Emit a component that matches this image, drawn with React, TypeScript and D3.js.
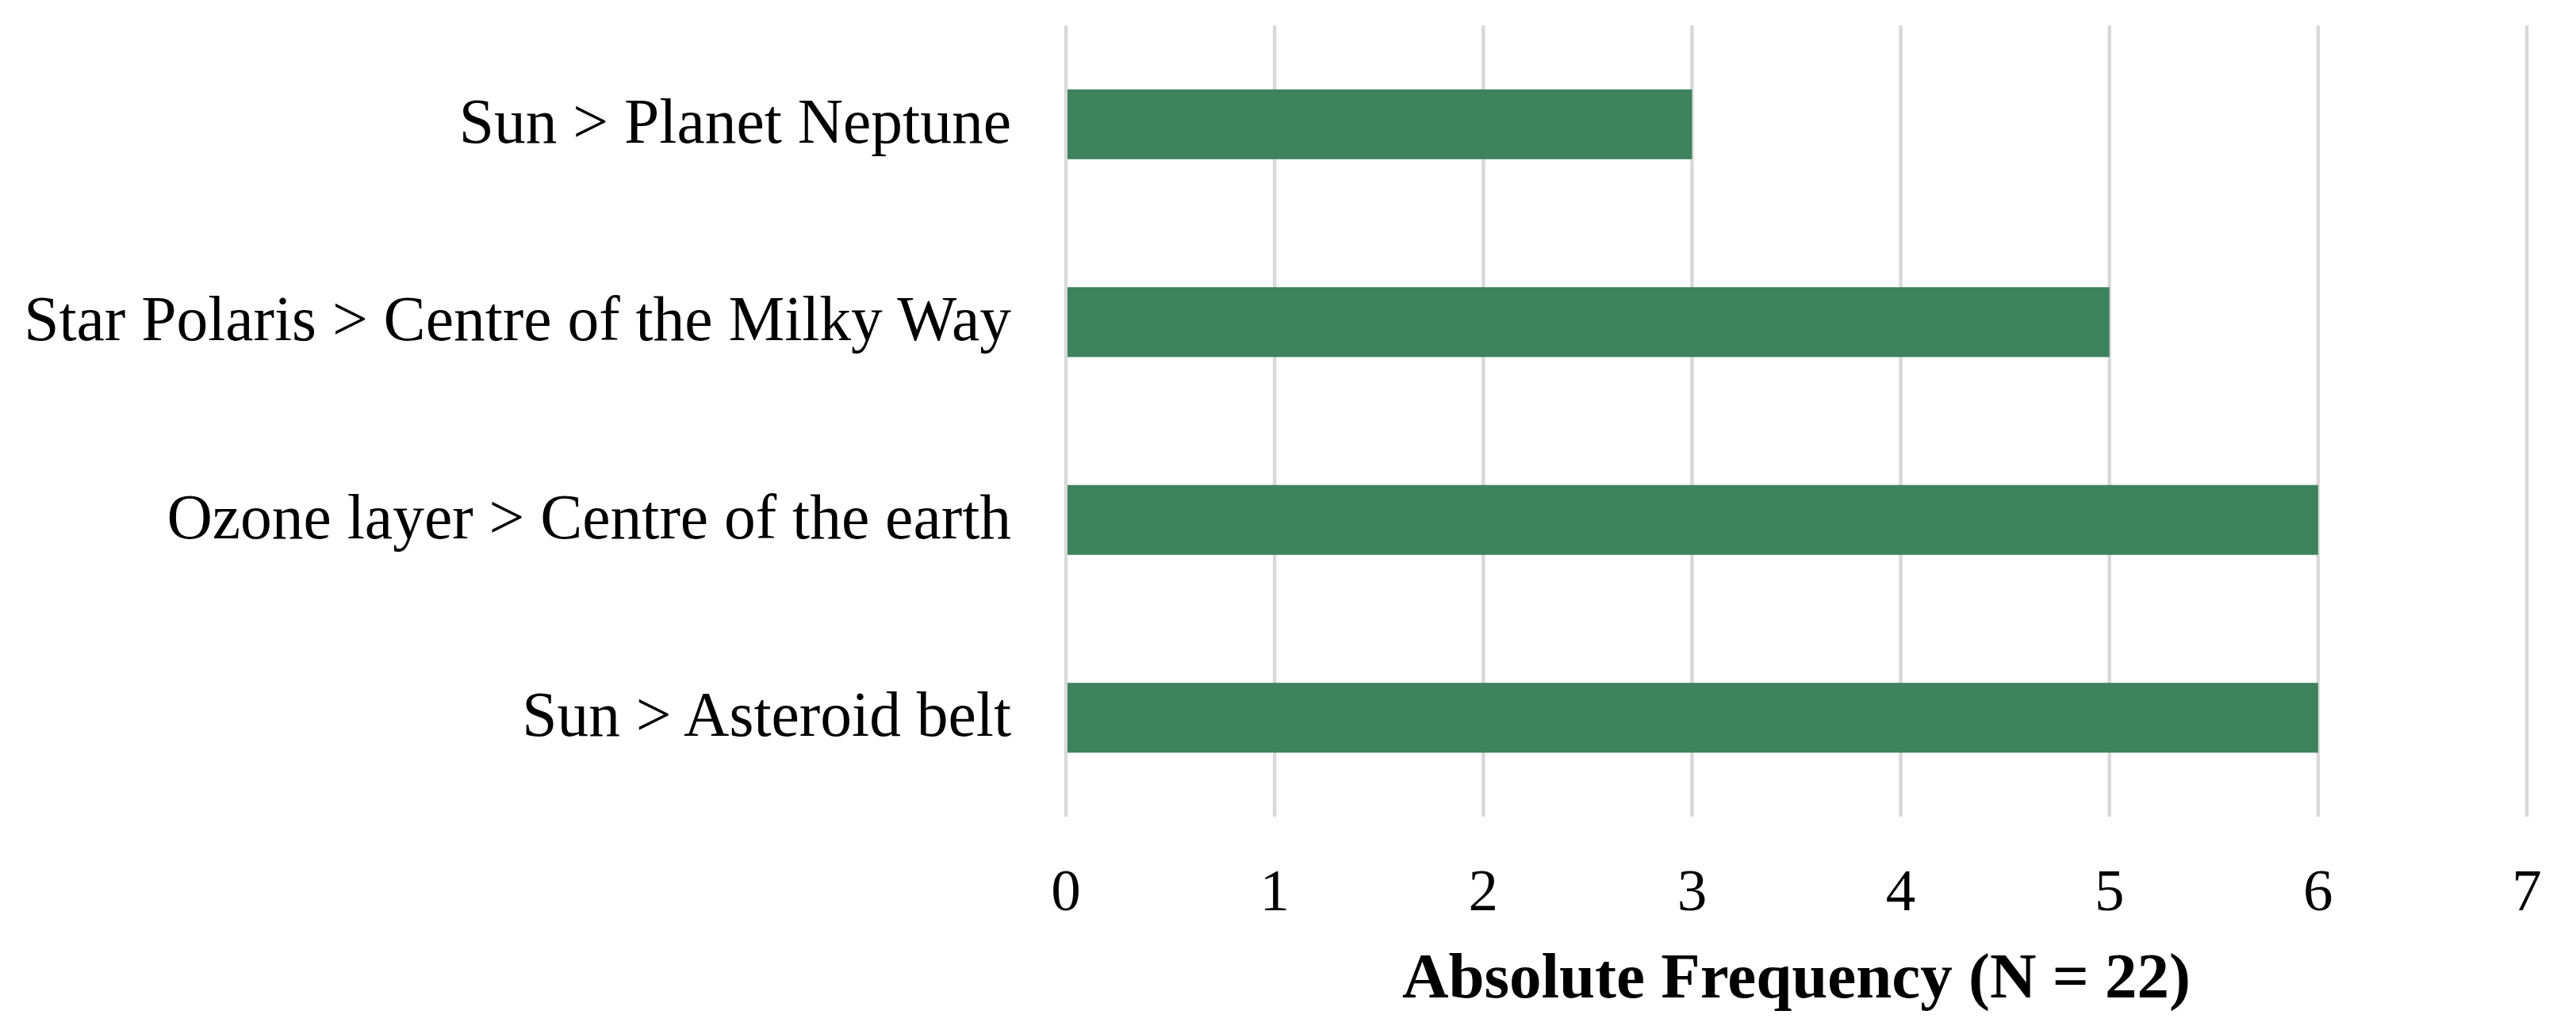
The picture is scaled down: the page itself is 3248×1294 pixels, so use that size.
import React from "react";
import * as d3 from "d3";

const categories = [
  "Sun > Planet Neptune",
  "Star Polaris > Centre of the Milky Way",
  "Ozone layer > Centre of the earth",
  "Sun > Asteroid belt",
];
const values = [3, 5, 6, 6];
const xTicks = [0, 1, 2, 3, 4, 5, 6, 7];
const xAxisTitle = "Absolute Frequency (N = 22)";

const W = 3248;
const H = 1294;
const FONT = "'Liberation Serif', 'Times New Roman', serif";

export default function App() {
  const x = d3.scaleLinear().domain([0, 7]).range([1344, 3186]);
  const y = d3
    .scaleBand<string>()
    .domain(categories)
    .range([32, 1030])
    .paddingInner(0.647)
    .paddingOuter(0.3235);

  return (
    <svg
      width={W}
      height={H}
      style={{ position: "absolute", left: 0, top: 0, background: "#fff" }}
    >
      <rect x={0} y={0} width={W} height={H} fill="#fff" />
      {xTicks.map((t) => (
        <line
          key={"g" + t}
          x1={x(t)}
          x2={x(t)}
          y1={32}
          y2={1030}
          stroke="#D9D9D9"
          strokeWidth={4.5}
        />
      ))}
      {categories.map((c, i) => (
        <rect
          key={"b" + c}
          x={x(0) + 2}
          y={y(c)!}
          width={x(values[i]) - x(0) - 2}
          height={y.bandwidth()}
          fill="#3E825E"
        />
      ))}
      {categories.map((c) => (
        <text
          key={"l" + c}
          x={1275}
          y={y(c)! + y.bandwidth() / 2 + 23}
          textAnchor="end"
          fontFamily={FONT}
          fontSize={79.5}
          fill="#000"
        >
          {c}
        </text>
      ))}
      {xTicks.map((t) => (
        <text
          key={"t" + t}
          x={x(t)}
          y={1148}
          textAnchor="middle"
          fontFamily={FONT}
          fontSize={75}
          fill="#000"
        >
          {t}
        </text>
      ))}
      <text
        x={(x(0) + x(7)) / 2}
        y={1258}
        textAnchor="middle"
        fontFamily={FONT}
        fontSize={81}
        fontWeight="bold"
        fill="#000"
      >
        {xAxisTitle}
      </text>
    </svg>
  );
}
